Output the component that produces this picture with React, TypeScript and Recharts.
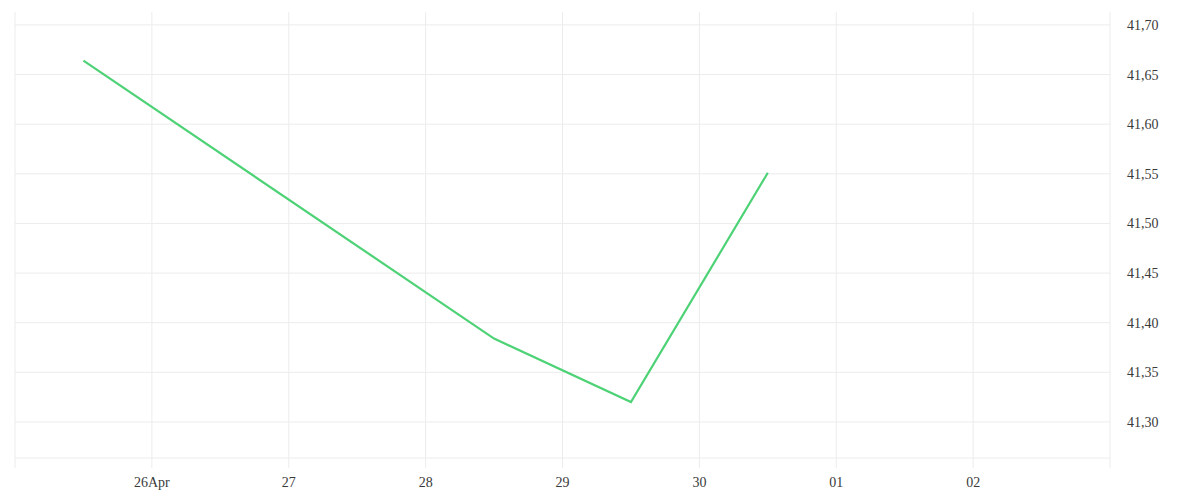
import { LineChart, Line, XAxis, YAxis, CartesianGrid } from "recharts";

// x is the day of the chart (25 = 25 Apr, 31 = 01 May), noon points
const days = [25.5, 28.5, 29.5, 30.5];
const prices = [41.664, 41.384, 41.32, 41.551];

const xTicks = [25, 26, 27, 28, 29, 30, 31, 32, 33];
const xTickLabels = ["", "26Apr", "27", "28", "29", "30", "01", "02", ""];
const yTicks = [41.3, 41.35, 41.4, 41.45, 41.5, 41.55, 41.6, 41.65, 41.7];

const data = days.map((d, i) => ({ day: d, price: prices[i] }));

const GRID = "#ececec";
const TEXT = "#3a3a3a";
const FONT = "'Liberation Serif', serif";

export default function App() {
  return (
    <div style={{ width: 1184, height: 484, fontFamily: FONT }}>
      <LineChart width={1184} height={484} data={data} margin={{ top: 4, right: 0, bottom: 0, left: 7 }}>
        <CartesianGrid stroke={GRID} strokeWidth={1} syncWithTicks />
        <XAxis
          dataKey="day"
          type="number"
          domain={[25, 33]}
          ticks={xTicks}
          interval={0}
          tickFormatter={(v: number) => xTickLabels[xTicks.indexOf(v)] ?? ""}
          height={34}
          axisLine={{ stroke: GRID }}
          tickLine={{ stroke: GRID }}
          tickSize={10}
          tickMargin={9}
          tick={{ fill: TEXT, fontSize: 14, fontFamily: FONT }}
        />
        <YAxis
          orientation="right"
          type="number"
          domain={[41.2637, 41.713]}
          ticks={yTicks}
          interval={0}
          tickFormatter={(v: number) => v.toFixed(2).replace(".", ",")}
          width={82}
          axisLine={false}
          tickLine={false}
          tickMargin={11}
          tick={{ fill: TEXT, fontSize: 14, fontFamily: FONT, textAnchor: "start" }}
        />
        <Line
          type="linear"
          dataKey="price"
          stroke="#4ed276"
          strokeWidth={2.2}
          dot={false}
          isAnimationActive={false}
        />
      </LineChart>
    </div>
  );
}
